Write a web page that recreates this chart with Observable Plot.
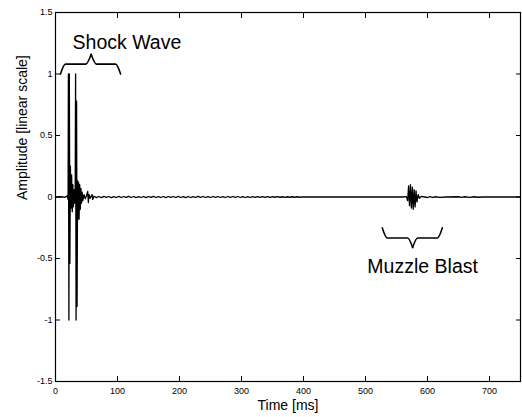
<!DOCTYPE html>
<html><head><meta charset="utf-8">
<script src="https://cdn.jsdelivr.net/npm/d3@7"></script>
<script src="https://cdn.jsdelivr.net/npm/@observablehq/plot@0.6"></script>
<style>body{margin:0;background:#fff} svg{display:block}</style>
</head><body><div id="chart"></div>
<script>
// Waveform samples (time in ms, amplitude)
const times = [
  0, 10, 15, 19, 20.3, 20.8, 21.6, 22.3, 23.2, 24, 25, 26, 27, 28, 29, 30, 31, 31.8,
  32.4, 33.2, 34, 34.8, 35.6, 36.4, 37.2, 38, 39, 40, 41, 42, 43, 44, 46, 48, 50,
  52, 53, 54, 56, 59, 60, 62,
  66, 70, 74, 78, 82, 86, 90, 94, 98, 102, 106, 110, 114, 118, 122, 126, 130, 134,
  138, 142, 146, 150, 154, 158, 162, 166, 170, 174, 178, 182, 186, 190, 194, 198,
  202, 206, 210, 214, 218, 222, 226, 230, 234, 238, 242, 246, 250, 254, 258, 262,
  266, 270, 274, 278, 282, 286, 290, 294, 298, 302, 306, 310, 314, 318, 322, 326,
  330, 334, 338, 342, 346, 350, 354, 358, 362, 366, 370, 374, 378, 382, 386, 390,
  394, 398, 404, 420, 480, 540, 560, 566, 568, 569.5, 571, 572.5, 574, 575.5, 577,
  578.5, 580, 581.5, 583, 585, 587, 590, 600, 604, 608, 612, 620, 630, 650, 655,
  660, 668, 675, 682, 690, 750
];
const amplitudes = [
  0, 0.002, -0.003, 0.01, -0.02, 1.0, -1.0, 1.0, -0.54, 0.25, -0.09, 0.18, -0.12, 0.1, -0.08, 0.06, -0.05, 0.08,
  1.0, -1.0, 0.78, -0.89, 0.13, -0.18, 0.12, -0.18, 0.1, -0.1, 0.07, -0.05, 0.04, -0.03, 0.02, -0.015, 0.01,
  0.045, -0.045, 0.02, -0.01, 0.02, -0.02, 0.006,
  -0.005, 0.004, -0.005, 0.005, -0.003, 0.004, -0.005, 0.003, -0.004, 0.005, -0.004, 0.004, -0.003, 0.005, -0.004, 0.004, -0.005, 0.003,
  -0.004, 0.004, -0.005, 0.004, -0.003, 0.005, -0.004, 0.003, -0.004, 0.004, -0.005, 0.004, -0.003, 0.004, -0.004, 0.005,
  -0.004, 0.003, -0.005, 0.004, -0.004, 0.003, -0.004, 0.005, -0.003, 0.004, -0.004, 0.003, -0.004, 0.004, -0.003, 0.004,
  -0.004, 0.003, -0.004, 0.004, -0.003, 0.004, -0.003, 0.004, -0.004, 0.003, -0.004, 0.003, -0.004, 0.003, -0.003, 0.003,
  -0.003, 0.003, -0.003, 0.003, -0.003, 0.003, -0.002, 0.003, -0.002, 0.002, -0.003, 0.002, -0.002, 0.002, -0.002, 0.002,
  -0.002, 0.001, 0, 0, 0, 0, 0, 0.003, -0.03, 0.09, -0.07, 0.1, -0.09, 0.08, -0.1,
  0.06, -0.08, 0.05, -0.04, 0.02, -0.01, 0.005, -0.004, 0.003, -0.004, 0.002, -0.003, 0, 0.002, -0.003,
  0.002, -0.003, 0.002, -0.002, 0, 0
];

const xTicks = [0, 100, 200, 300, 400, 500, 600, 700];
const yTicks = [-1.5, -1, -0.5, 0, 0.5, 1, 1.5];
const xLabel = "Time [ms]";
const yLabel = "Amplitude [linear scale]";

// Annotations
const annoTexts = ["Shock Wave", "Muzzle Blast"];
const annoX = [27.5, 503];
const annoY = [1.207, -0.62];

// Curly braces: two halves each (end -> curl -> flat -> tip)
const braceId = ["s1","s1","s1","s1","s2","s2","s2","s2","m1","m1","m1","m1","m2","m2","m2","m2"];
const braceX = [8, 16, 49, 57.5, 57.5, 66, 97, 105, 527, 535, 568, 576, 576, 584, 616, 624];
const braceY = [1.0, 1.08, 1.08, 1.16, 1.16, 1.08, 1.08, 1.0,
  -0.25, -0.333, -0.333, -0.41, -0.41, -0.333, -0.333, -0.25];

const signal = times.map((t, i) => ({t, a: amplitudes[i]}));
const brace = braceX.map((x, i) => ({x, y: braceY[i], id: braceId[i]}));
const annos = annoTexts.map((s, i) => ({s, x: annoX[i], y: annoY[i]}));

const font = "'Liberation Sans', Arial, Helvetica, sans-serif";

const chart = Plot.plot({
  width: 522,
  height: 417,
  marginLeft: 55,
  marginRight: 2,
  marginTop: 12,
  marginBottom: 36,
  style: {fontFamily: font, background: "#fff", color: "#000"},
  x: {domain: [0, 750]},
  y: {domain: [-1.5, 1.5]},
  marks: [
    Plot.line(signal, {x: "t", y: "a", stroke: "#000", strokeWidth: 1.3}),
    Plot.line(brace, {x: "x", y: "y", z: "id", curve: "monotone-x", stroke: "#000", strokeWidth: 1.6}),
    Plot.text(annos, {x: "x", y: "y", text: "s", textAnchor: "start", lineAnchor: "bottom", fontSize: 19.5, fill: "#000"}),
    Plot.frame({stroke: "#000", strokeWidth: 1.2}),
    Plot.axisX({anchor: "bottom", ticks: xTicks, tickSize: -5, tickPadding: 11, tickFormat: d => String(d), fontSize: 9, label: null}),
    Plot.axisX({anchor: "top", ticks: xTicks, tickSize: -5, tickFormat: () => "", label: null}),
    Plot.axisY({anchor: "left", ticks: yTicks, tickSize: -5, tickPadding: 8, tickFormat: d => String(d), fontSize: 9, label: null}),
    Plot.axisY({anchor: "right", ticks: yTicks, tickSize: -5, tickFormat: () => "", label: null}),
    Plot.text([xLabel], {frameAnchor: "bottom", dy: 28, lineAnchor: "bottom", fontSize: 14, fill: "#000"}),
    Plot.text([yLabel], {frameAnchor: "left", dx: -29, dy: 3, rotate: -90, lineAnchor: "bottom", fontSize: 14, fill: "#000"})
  ]
});
document.getElementById("chart").appendChild(chart);
</script>
</body></html>
